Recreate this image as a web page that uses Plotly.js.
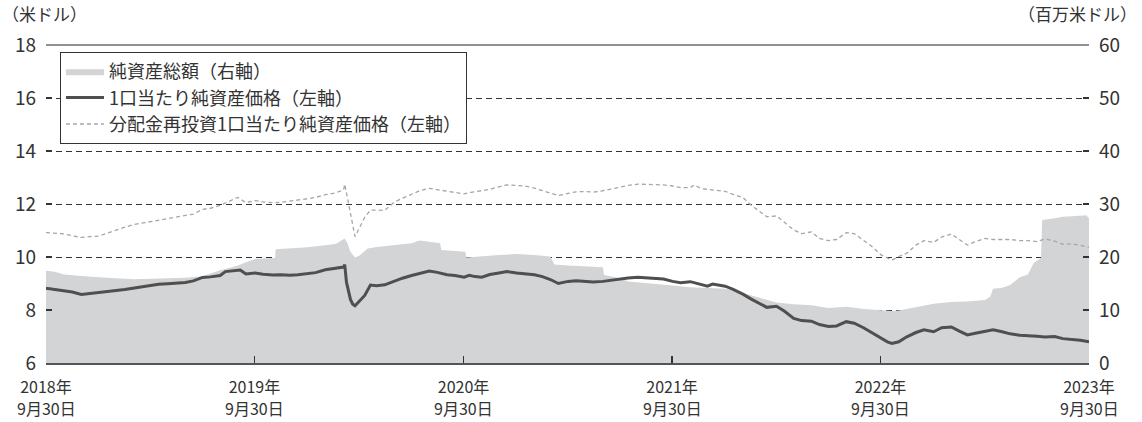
<!DOCTYPE html>
<html>
<head>
<meta charset="utf-8">
<script src="https://cdn.plot.ly/plotly-3.0.1.min.js"></script>
<style>
html,body{margin:0;padding:0;background:#fff;}
#chart{width:1142px;height:422px;}
</style>
</head>
<body>
<div id="chart"></div>
<script>
// ---- Data ----
const navDates = ["2018-09-30","2018-10-15","2018-11-01","2018-11-15","2018-12-01","2018-12-15","2019-01-01","2019-01-15","2019-02-01","2019-02-15","2019-03-01","2019-03-15","2019-04-01","2019-04-15","2019-05-01","2019-05-15","2019-06-01","2019-06-15","2019-07-01","2019-07-15","2019-08-01","2019-08-10","2019-08-25","2019-09-05","2019-09-15","2019-10-01","2019-10-15","2019-11-01","2019-11-15","2019-12-01","2019-12-15","2020-01-01","2020-01-15","2020-02-01","2020-02-15","2020-02-25","2020-03-04","2020-03-06","2020-03-09","2020-03-16","2020-03-20","2020-03-24","2020-04-01","2020-04-10","2020-04-20","2020-05-01","2020-05-15","2020-06-01","2020-06-15","2020-07-01","2020-07-15","2020-08-01","2020-08-15","2020-09-01","2020-09-15","2020-10-01","2020-10-10","2020-10-20","2020-11-01","2020-11-15","2020-12-01","2020-12-15","2021-01-01","2021-01-15","2021-02-01","2021-02-15","2021-03-01","2021-03-15","2021-04-01","2021-04-15","2021-05-01","2021-05-15","2021-06-01","2021-06-15","2021-07-01","2021-07-15","2021-08-01","2021-08-15","2021-09-01","2021-09-15","2021-10-01","2021-10-15","2021-11-01","2021-11-15","2021-12-01","2021-12-10","2022-01-01","2022-01-15","2022-02-01","2022-02-15","2022-03-01","2022-03-15","2022-04-01","2022-04-15","2022-05-01","2022-05-15","2022-06-01","2022-06-15","2022-07-01","2022-07-15","2022-08-01","2022-08-15","2022-09-01","2022-09-15","2022-10-01","2022-10-12","2022-10-20","2022-11-01","2022-11-15","2022-12-01","2022-12-15","2023-01-01","2023-01-15","2023-02-01","2023-02-15","2023-03-01","2023-03-15","2023-04-01","2023-04-15","2023-05-01","2023-05-15","2023-06-01","2023-06-15","2023-07-01","2023-07-15","2023-08-01","2023-08-15","2023-09-01","2023-09-15","2023-09-30"];
const navValues = [8.82,8.77,8.74,8.68,8.59,8.62,8.65,8.68,8.73,8.77,8.82,8.87,8.93,8.97,8.99,9.00,9.04,9.10,9.23,9.25,9.30,9.45,9.48,9.51,9.36,9.40,9.35,9.32,9.33,9.31,9.33,9.36,9.41,9.52,9.57,9.60,9.62,9.71,9.05,8.40,8.22,8.16,8.35,8.55,8.94,8.92,8.95,9.10,9.20,9.30,9.38,9.47,9.42,9.33,9.30,9.24,9.31,9.26,9.24,9.34,9.40,9.45,9.40,9.38,9.33,9.26,9.15,9.00,9.08,9.10,9.07,9.06,9.08,9.13,9.18,9.21,9.24,9.21,9.20,9.17,9.08,9.03,9.07,8.98,8.90,8.98,8.90,8.78,8.60,8.42,8.25,8.10,8.14,7.95,7.68,7.60,7.58,7.45,7.38,7.40,7.56,7.50,7.32,7.15,6.93,6.80,6.74,6.80,6.99,7.15,7.25,7.18,7.33,7.36,7.20,7.06,7.12,7.18,7.25,7.18,7.10,7.05,7.04,7.01,6.98,7.00,6.92,6.90,6.86,6.80];

const reinvDates = ["2018-09-30","2018-10-15","2018-11-01","2018-11-15","2018-12-01","2018-12-15","2019-01-01","2019-01-15","2019-02-01","2019-02-15","2019-03-01","2019-03-15","2019-04-01","2019-04-15","2019-05-01","2019-05-15","2019-06-01","2019-06-15","2019-07-01","2019-07-15","2019-08-01","2019-08-15","2019-09-01","2019-09-15","2019-10-01","2019-10-15","2019-11-01","2019-11-15","2019-12-01","2019-12-15","2020-01-01","2020-01-15","2020-02-01","2020-02-15","2020-03-04","2020-03-06","2020-03-24","2020-04-10","2020-04-20","2020-05-01","2020-05-15","2020-06-01","2020-06-15","2020-07-01","2020-07-15","2020-08-01","2020-08-15","2020-09-01","2020-09-15","2020-10-01","2020-10-15","2020-11-01","2020-11-15","2020-12-01","2020-12-15","2021-01-01","2021-01-15","2021-02-01","2021-02-15","2021-03-01","2021-03-15","2021-04-01","2021-04-15","2021-05-01","2021-05-15","2021-06-01","2021-06-15","2021-07-01","2021-07-15","2021-08-01","2021-08-15","2021-09-01","2021-09-15","2021-10-01","2021-10-15","2021-11-01","2021-11-08","2021-11-20","2021-12-01","2021-12-15","2022-01-01","2022-01-15","2022-02-01","2022-02-15","2022-03-01","2022-03-15","2022-04-01","2022-04-15","2022-05-01","2022-05-15","2022-06-01","2022-06-15","2022-07-01","2022-07-15","2022-08-01","2022-08-15","2022-09-01","2022-09-15","2022-10-01","2022-10-12","2022-10-20","2022-11-01","2022-11-15","2022-12-01","2022-12-15","2023-01-01","2023-01-15","2023-02-01","2023-02-15","2023-03-01","2023-03-15","2023-04-01","2023-04-15","2023-05-01","2023-05-15","2023-06-01","2023-06-15","2023-07-01","2023-07-15","2023-08-01","2023-08-15","2023-09-01","2023-09-15","2023-09-30"];
const reinvValues = [10.92,10.90,10.87,10.80,10.74,10.77,10.79,10.90,11.02,11.12,11.22,11.27,11.33,11.40,11.45,11.50,11.55,11.62,11.80,11.84,11.95,12.09,12.25,12.05,12.13,12.08,12.05,12.06,12.10,12.13,12.20,12.25,12.35,12.40,12.53,12.75,10.77,11.50,11.77,11.77,11.76,12.08,12.22,12.35,12.50,12.59,12.54,12.47,12.44,12.38,12.45,12.50,12.55,12.65,12.72,12.70,12.68,12.60,12.50,12.40,12.32,12.40,12.46,12.47,12.45,12.50,12.57,12.64,12.70,12.75,12.74,12.73,12.72,12.68,12.62,12.62,12.72,12.58,12.55,12.53,12.48,12.36,12.25,11.96,11.75,11.52,11.55,11.30,11.02,10.88,10.95,10.70,10.62,10.66,10.92,10.88,10.62,10.40,10.08,9.95,9.88,10.02,10.14,10.45,10.62,10.55,10.75,10.87,10.65,10.45,10.58,10.70,10.66,10.66,10.66,10.62,10.62,10.58,10.68,10.60,10.48,10.50,10.45,10.37];

const aumDates = ["2018-09-30","2018-10-15","2018-11-01","2018-11-15","2018-12-01","2019-01-01","2019-02-01","2019-03-01","2019-04-01","2019-05-01","2019-06-01","2019-07-01","2019-07-15","2019-08-01","2019-08-15","2019-09-01","2019-09-15","2019-10-01","2019-10-15","2019-11-01","2019-11-05","2019-11-06","2019-12-01","2020-01-01","2020-02-01","2020-02-20","2020-03-06","2020-03-10","2020-03-16","2020-03-24","2020-04-01","2020-04-15","2020-05-01","2020-06-01","2020-07-01","2020-07-15","2020-08-01","2020-08-20","2020-08-22","2020-09-15","2020-10-03","2020-10-05","2020-11-01","2020-12-01","2021-01-01","2021-02-01","2021-03-01","2021-03-08","2021-04-01","2021-05-01","2021-06-01","2021-06-03","2021-07-01","2021-07-15","2021-08-01","2021-09-01","2021-10-01","2021-11-01","2021-12-01","2022-01-01","2022-02-01","2022-03-01","2022-04-01","2022-05-01","2022-06-01","2022-07-01","2022-08-01","2022-09-01","2022-10-01","2022-10-20","2022-11-01","2022-12-01","2023-01-01","2023-02-01","2023-03-01","2023-04-01","2023-04-10","2023-04-15","2023-05-01","2023-05-15","2023-06-01","2023-06-15","2023-06-25","2023-07-08","2023-07-10","2023-08-01","2023-08-15","2023-09-01","2023-09-25","2023-09-30"];
const aumValues = [17.4,17.2,16.7,16.5,16.4,16.2,16.0,15.8,15.9,16.0,16.1,16.35,16.9,17.5,17.9,18.4,19.0,19.6,19.7,19.75,19.8,21.45,21.6,21.85,22.2,22.5,23.5,22.8,21.0,19.9,20.3,21.6,21.9,22.2,22.6,23.1,22.9,22.6,21.3,21.1,21.0,19.9,20.2,20.4,20.55,20.4,20.1,18.6,18.4,18.2,18.05,16.6,16.0,15.4,15.2,14.9,14.6,14.3,14.2,14.0,13.2,12.3,11.4,11.1,10.9,10.4,10.6,10.2,10.0,9.8,9.9,10.6,11.2,11.5,11.6,11.9,12.5,14.0,14.2,14.7,16.2,16.7,18.8,19.8,27.0,27.3,27.6,27.7,27.9,27.3];

const xTickVals = ["2018-09-30","2019-09-30","2020-09-30","2021-09-30","2022-09-30","2023-09-30"];
const xTickYear = ["2018年","2019年","2020年","2021年","2022年","2023年"];
const xTickDay = ["9月30日","9月30日","9月30日","9月30日","9月30日","9月30日"];
const leftTicks = [6,8,10,12,14,16,18];
const rightTicks = [0,10,20,30,40,50,60];
const seriesNames = ["純資産総額（右軸）","1口当たり純資産価格（左軸）","分配金再投資1口当たり純資産価格（左軸）"];

const FONT = '"Noto Sans CJK JP", "Liberation Sans", Arial, sans-serif';
const xRange = ['2018-09-30', '2023-09-30'];

const traces = [
  {
    x: aumDates, y: aumValues, name: seriesNames[0], type: 'scatter', mode: 'lines',
    fill: 'tozeroy', fillcolor: '#d3d4d6', line: {width: 0, color: '#d3d4d6'},
    yaxis: 'y', hoverinfo: 'skip'
  },
  {
    x: navDates, y: navValues, name: seriesNames[1], type: 'scatter', mode: 'lines',
    line: {width: 3, color: '#4f4f4f'}, yaxis: 'y2', hoverinfo: 'skip'
  },
  {
    x: reinvDates, y: reinvValues, name: seriesNames[2], type: 'scatter', mode: 'lines',
    line: {width: 1.3, color: '#a6a6a6', dash: '4px,3px'}, yaxis: 'y2', hoverinfo: 'skip'
  }
];

// second line of each x tick label (date under the year), placed at the tick dates
const dayLabels = xTickVals.map((d, i) => ({
  text: xTickDay[i], xref: 'x', yref: 'paper', x: d, y: -0.1824,
  xanchor: 'center', yanchor: 'bottom', showarrow: false, borderpad: 0,
  font: {family: FONT, size: 16, color: '#333'}
}));

const layout = {
  width: 1142, height: 422,
  margin: {l: 46, r: 53, t: 45, b: 59},
  paper_bgcolor: '#fff', plot_bgcolor: '#fff',
  font: {family: FONT, size: 19, color: '#333'},
  showlegend: true,
  legend: {
    x: 0.0134, y: 0.978, xanchor: 'left', yanchor: 'top',
    bgcolor: '#fff', bordercolor: '#333', borderwidth: 1,
    font: {family: FONT, size: 18, color: '#333'},
    tracegroupgap: 0, itemwidth: 38, traceorder: 'normal'
  },
  xaxis: {
    type: 'date', range: xRange,
    tickmode: 'array', tickvals: xTickVals, ticktext: xTickYear,
    ticks: 'inside', ticklen: 7, tickwidth: 1.5, tickcolor: '#333',
    showline: true, linecolor: '#555', linewidth: 2,
    showgrid: false, zeroline: false,
    tickfont: {family: FONT, size: 16, color: '#333'},
    ticklabelstandoff: 9
  },
  yaxis: {
    side: 'right', range: [0, 60], tickmode: 'array', tickvals: rightTicks,
    ticks: 'inside', ticklen: 6, tickwidth: 1.5, tickcolor: '#333',
    showgrid: false, zeroline: false, showline: false,
    tickfont: {family: FONT, size: 19, color: '#333'},
    ticklabelstandoff: 9
  },
  yaxis2: {
    overlaying: 'y', side: 'left', range: [6, 18], tickmode: 'array', tickvals: leftTicks,
    ticks: 'inside', ticklen: 6, tickwidth: 1.5, tickcolor: '#333',
    showgrid: true, gridcolor: '#333', gridwidth: 1, griddash: '6px,4px',
    zeroline: false, showline: false,
    tickfont: {family: FONT, size: 19, color: '#333'},
    ticklabelstandoff: 9
  },
  shapes: [
    {type: 'line', xref: 'paper', yref: 'paper', x0: 0, x1: 1, y0: 1, y1: 1,
     line: {color: '#222', width: 1.2}}
  ],
  annotations: [
    {text: '（米ドル）', xref: 'paper', yref: 'paper', x: -0.044, y: 1.1, xanchor: 'left', yanchor: 'middle',
     showarrow: false, font: {family: FONT, size: 17, color: '#333'}},
    {text: '（百万米ドル）', xref: 'paper', yref: 'paper', x: 1.048, y: 1.1, xanchor: 'right', yanchor: 'middle',
     showarrow: false, font: {family: FONT, size: 17, color: '#333'}}
  ].concat(dayLabels)
};

Plotly.newPlot('chart', traces, layout, {staticPlot: true, displayModeBar: false});
</script>
</body>
</html>
